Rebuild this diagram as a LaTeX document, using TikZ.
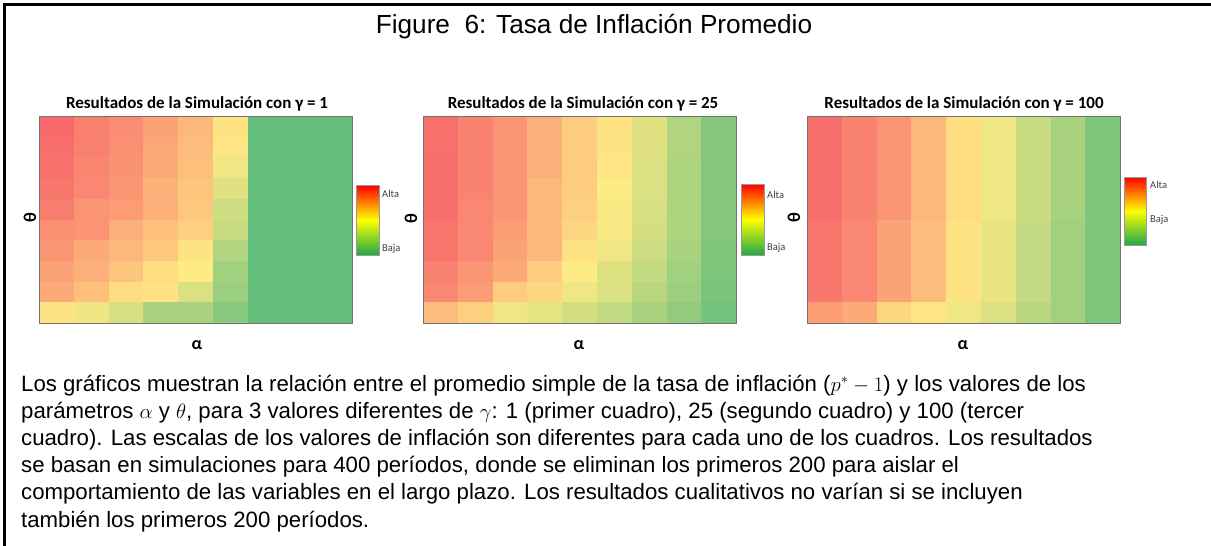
\documentclass[tikz,border=0pt]{standalone}
\usepackage{fontspec}
\setmainfont{Liberation Sans}
\newfontfamily\calibri{Carlito}
\usepackage{xcolor}
\definecolor{hmred}{HTML}{F8696B}
\definecolor{hmyel}{HTML}{FFEB84}
\definecolor{hmgrn}{HTML}{63BE7B}
\definecolor{barred}{HTML}{FF0000}
\definecolor{baryel}{HTML}{FFFF00}
\definecolor{bargrn}{HTML}{1FA84A}
\tikzset{hmframe/.style={draw=black!55,line width=0.8pt}}
\tikzset{hmtitle/.style={anchor=base,inner sep=0pt,font=\calibri\bfseries\fontsize{17}{20}\selectfont}}
\tikzset{axlabel/.style={inner sep=0pt,font=\calibri\bfseries\fontsize{18}{20}\selectfont}}
\tikzset{legtext/.style={anchor=west,inner sep=0pt,text=black!75,font=\calibri\fontsize{10.5}{12}\selectfont}}
\tikzset{legbar/.style={top color=barred,bottom color=bargrn,middle color=baryel,draw=black!40,line width=0.5pt}}
\tikzset{captext/.style={anchor=base west,inner sep=0pt,font=\fontsize{22.2}{26}\selectfont}}

% one heat map: left edge, rows of values (0 = red, 1 = green)
\newcommand{\hmpanel}[2]{%
  \foreach \vals [count=\r] in {#2} {
    \foreach \v [count=\c] in \vals {
      \pgfmathsetmacro\cx{#1+(\c-1)*34.8}
      \pgfmathsetmacro\cy{116+(\r-1)*20.7}
      \pgfmathtruncatemacro\lo{\v<0.5}
      \ifnum\lo=1
        \pgfmathtruncatemacro\p{200*\v}
        \colorlet{cellcol}{hmyel!\p!hmred}
      \else
        \pgfmathtruncatemacro\p{200*(\v-0.5)}
        \colorlet{cellcol}{hmgrn!\p!hmyel}
      \fi
      \fill[cellcol] (\cx,\cy) rectangle ++(35.2,21.1);
    }
  }
  \draw[hmframe] (#1,116) rectangle (#1+313,323);
}

\begin{document}
\begin{tikzpicture}[x=1pt,y=-1pt]
  \useasboundingbox (0,0) rectangle (1211,546);
  \draw[line width=2.5pt] (4.5,546) -- (4.5,4.5) -- (1211,4.5);

  \node[anchor=base,inner sep=0pt,font=\fontsize{26.2}{31}\selectfont] (title) at (594,33)
    {Figure\ \ 6: Tasa de Inflación Promedio};

  % gamma = 1
  \hmpanel{39}{%
    {0.00,0.09,0.14,0.23,0.31,0.47,1,1,1},
    {0.02,0.09,0.15,0.24,0.32,0.48,1,1,1},
    {0.04,0.11,0.16,0.25,0.33,0.55,1,1,1},
    {0.05,0.12,0.18,0.29,0.35,0.60,1,1,1},
    {0.08,0.17,0.20,0.28,0.37,0.66,1,1,1},
    {0.15,0.17,0.28,0.33,0.40,0.68,1,1,1},
    {0.18,0.25,0.30,0.36,0.47,0.75,1,1,1},
    {0.22,0.28,0.35,0.45,0.50,0.80,1,1,1},
    {0.25,0.33,0.45,0.46,0.62,0.82,1,1,1},
    {0.47,0.56,0.63,0.78,0.78,0.88,1,1,1}}
  % gamma = 25
  \hmpanel{423}{%
    {0.03,0.10,0.18,0.28,0.38,0.47,0.60,0.75,0.90},
    {0.03,0.10,0.18,0.28,0.38,0.47,0.60,0.75,0.90},
    {0.02,0.10,0.18,0.28,0.38,0.48,0.62,0.76,0.90},
    {0.02,0.10,0.18,0.30,0.38,0.50,0.62,0.76,0.90},
    {0.02,0.12,0.18,0.30,0.40,0.52,0.63,0.76,0.90},
    {0.05,0.12,0.20,0.30,0.42,0.52,0.64,0.76,0.90},
    {0.05,0.12,0.22,0.30,0.46,0.55,0.66,0.78,0.92},
    {0.10,0.18,0.25,0.38,0.50,0.60,0.70,0.80,0.92},
    {0.12,0.20,0.38,0.42,0.55,0.62,0.72,0.82,0.93},
    {0.32,0.40,0.55,0.58,0.65,0.70,0.78,0.85,0.95}}
  % gamma = 100
  \hmpanel{807}{%
    {0.02,0.10,0.18,0.30,0.45,0.55,0.68,0.78,0.92},
    {0.02,0.10,0.18,0.30,0.45,0.55,0.68,0.78,0.92},
    {0.02,0.10,0.18,0.30,0.45,0.55,0.68,0.78,0.92},
    {0.02,0.10,0.18,0.30,0.45,0.55,0.68,0.78,0.92},
    {0.02,0.10,0.18,0.30,0.45,0.55,0.68,0.78,0.92},
    {0.05,0.12,0.22,0.32,0.47,0.57,0.70,0.80,0.92},
    {0.05,0.12,0.22,0.32,0.47,0.57,0.70,0.80,0.92},
    {0.05,0.12,0.22,0.32,0.47,0.57,0.70,0.80,0.92},
    {0.05,0.12,0.22,0.32,0.47,0.57,0.70,0.80,0.92},
    {0.20,0.25,0.42,0.48,0.55,0.62,0.72,0.80,0.92}}

  \node[hmtitle] (hmtitle1) at (197,108) {Resultados de la Simulación con γ = 1};
  \node[hmtitle] (hmtitle2) at (583,108) {Resultados de la Simulación con γ = 25};
  \node[hmtitle] (hmtitle3) at (964,108) {Resultados de la Simulación con γ = 100};

  \node[axlabel,rotate=90] (theta1) at (30,218)  {θ};
  \node[axlabel,rotate=90] (theta2) at (411,219) {θ};
  \node[axlabel,rotate=90] (theta3) at (794,218) {θ};
  \node[axlabel] (alpha1) at (197,345) {α};
  \node[axlabel] (alpha2) at (579,345) {α};
  \node[axlabel] (alpha3) at (963,345) {α};

  % colour keys
  \path[legbar] (356,185) rectangle (379,255);
  \node[legtext] (alta1) at (382,194) {Alta};
  \node[legtext] (baja1) at (382,249) {Baja};
  \path[legbar] (741,184) rectangle (764,255);
  \node[legtext] (alta2) at (767,195) {Alta};
  \node[legtext] (baja2) at (767,248) {Baja};
  \path[legbar] (1124,177) rectangle (1146,245);
  \node[legtext] (alta3) at (1150,185) {Alta};
  \node[legtext] (baja3) at (1150,220) {Baja};

  \node[captext] (cap1) at (21,391)   {Los gráficos muestran la relación entre el promedio simple de la tasa de inflación ($p^{*}-1$) y los valores de los};
  \node[captext] (cap2) at (21,418.2) {parámetros $\alpha$ y $\theta$, para 3 valores diferentes de $\gamma$: 1 (primer cuadro), 25 (segundo cuadro) y 100 (tercer};
  \node[captext] (cap3) at (21,445.4) {cuadro). Las escalas de los valores de inflación son diferentes para cada uno de los cuadros. Los resultados};
  \node[captext] (cap4) at (21,472.6) {se basan en simulaciones para 400 períodos, donde se eliminan los primeros 200 para aislar el};
  \node[captext] (cap5) at (21,499.8) {comportamiento de las variables en el largo plazo. Los resultados cualitativos no varían si se incluyen};
  \node[captext] (cap6) at (21,527)   {también los primeros 200 períodos.};
\end{tikzpicture}
\end{document}
